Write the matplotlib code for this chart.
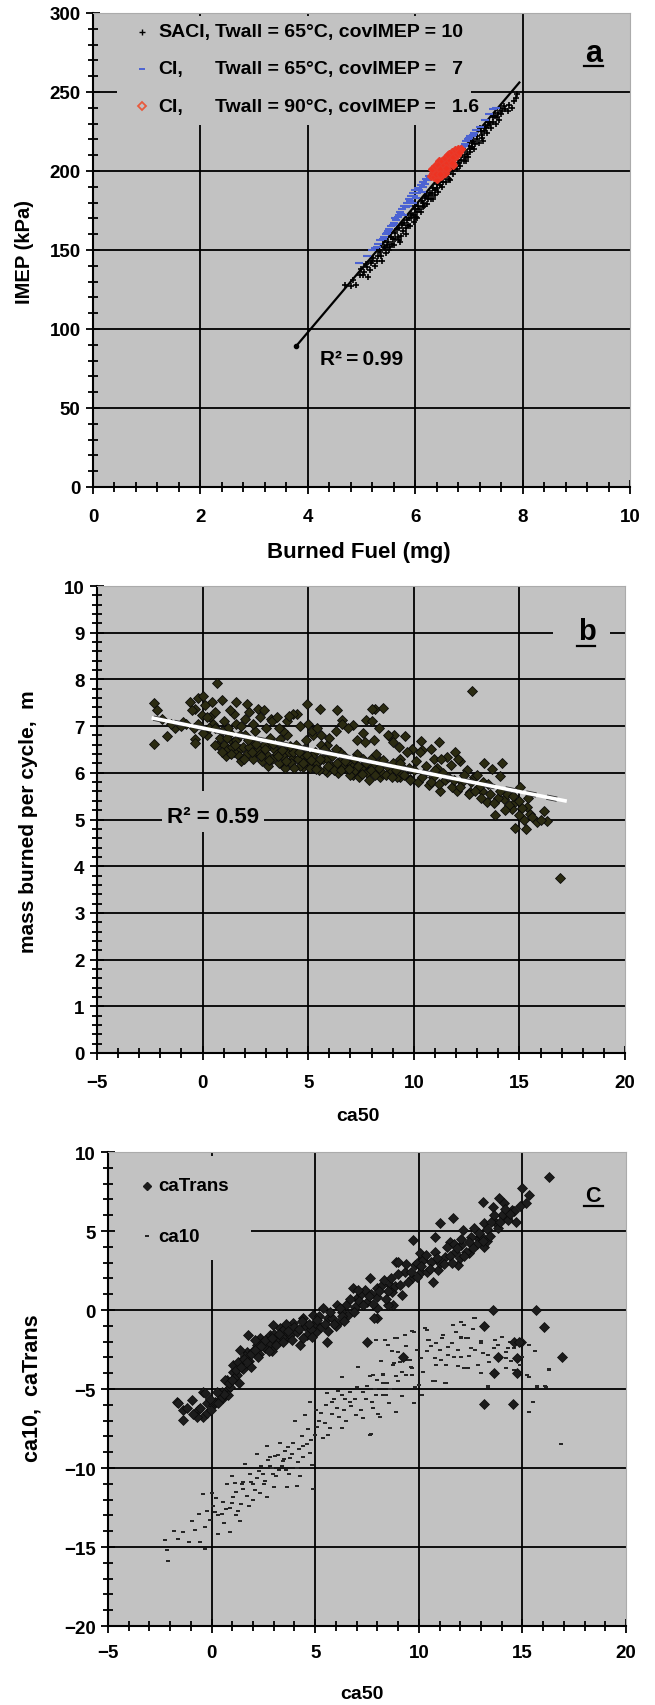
import numpy as np
import matplotlib
matplotlib.use('Agg')
import matplotlib.pyplot as plt
from matplotlib.patches import Rectangle
from matplotlib.ticker import MultipleLocator

plt.rcParams['font.family'] = ['Liberation Sans', 'DejaVu Sans']
plt.rcParams['font.weight'] = 'bold'

BG = '#c2c2c2'

# ---------------- panel a: IMEP vs burned fuel ----------------
a_saci = [(4.70, 128), (4.80, 127), (4.85, 131), (4.90, 128), (4.98, 134), (5.00, 138), (5.05, 136),
          (5.10, 139), (5.12, 133), (5.20, 143), (5.22, 145), (5.25, 140), (5.30, 146), (5.35, 149),
          (5.38, 143), (5.40, 156), (5.42, 152), (5.45, 148), (5.50, 155), (5.52, 150), (5.55, 158),
          (5.58, 157), (5.60, 153), (5.63, 161), (5.68, 158), (5.70, 164), (5.72, 155), (5.78, 162),
          (5.80, 167), (5.83, 160), (5.85, 169), (5.88, 170), (5.90, 165), (5.93, 173), (5.97, 168),
          (6.00, 176), (6.00, 178), (6.02, 171), (6.06, 178), (6.10, 174), (6.12, 181), (6.15, 177),
          (6.18, 183), (6.20, 184), (6.22, 179), (6.27, 186), (6.30, 182), (6.33, 189), (6.37, 185),
          (6.40, 192), (6.43, 187), (6.45, 193), (6.47, 194), (6.50, 190), (6.53, 197), (6.57, 193),
          (6.60, 199), (6.60, 202), (6.63, 195), (6.68, 202), (6.70, 198), (6.73, 205), (6.75, 204),
          (6.78, 201), (6.80, 207), (6.83, 203), (6.88, 210), (6.90, 206), (6.93, 213), (6.98, 209),
          (7.00, 216), (7.03, 212), (7.05, 218), (7.08, 219), (7.10, 214), (7.15, 222), (7.18, 218),
          (7.20, 227), (7.22, 225), (7.25, 221), (7.30, 228), (7.33, 224), (7.35, 229), (7.38, 231),
          (7.42, 227), (7.45, 234), (7.50, 230), (7.55, 237), (7.58, 240), (7.60, 236), (7.68, 239),
          (7.72, 238), (7.80, 240), (7.90, 249),
          (5.02, 134), (5.08, 141), (5.15, 137), (5.18, 142), (5.28, 143), (5.32, 150), (5.44, 151),
          (5.48, 153), (5.56, 154), (5.62, 157), (5.66, 163), (5.74, 159), (5.76, 166), (5.82, 164),
          (5.86, 166), (5.92, 170), (5.95, 172), (6.04, 174), (6.08, 176), (6.14, 180), (6.17, 178),
          (6.24, 182), (6.26, 185), (6.32, 186), (6.36, 188), (6.41, 189), (6.46, 191), (6.52, 193),
          (6.56, 196), (6.62, 198), (6.66, 200), (6.72, 201), (6.76, 203), (6.82, 205), (6.86, 207),
          (6.92, 209), (6.96, 211), (7.02, 214), (7.06, 215), (7.12, 217), (7.16, 220), (7.24, 223),
          (7.28, 225), (7.32, 227), (7.40, 230), (7.44, 231), (7.48, 235), (7.52, 234), (7.62, 238),
          (7.66, 241), (7.74, 242), (7.84, 244), (7.88, 246), (5.36, 146), (5.54, 152), (5.69, 156),
          (6.04, 170), (6.34, 182), (6.64, 194), (6.94, 206), (7.26, 219), (7.56, 232)]
a_ci65 = [(4.95, 142), (5.25, 151), (5.30, 154), (5.40, 157), (5.45, 160), (5.50, 162), (5.55, 165),
          (5.60, 167), (5.62, 170), (5.68, 171), (5.72, 174), (5.75, 176), (5.78, 172), (5.80, 178),
          (5.85, 180), (5.88, 182), (5.92, 184), (5.95, 180), (5.96, 186), (6.00, 188), (6.02, 183),
          (6.05, 189), (6.10, 191), (6.12, 187), (6.15, 193), (6.20, 195), (6.25, 197), (6.80, 212),
          (6.85, 214), (6.90, 216), (6.95, 219), (7.00, 221), (7.05, 222), (7.10, 224), (7.45, 239),
          (7.50, 240),
          (5.28, 152), (5.35, 156), (5.42, 158), (5.48, 161), (5.52, 163), (5.58, 166), (5.65, 169),
          (5.70, 172), (5.74, 173), (5.82, 177), (5.87, 178), (5.90, 181), (5.98, 184), (6.04, 186),
          (6.08, 188), (6.14, 190), (6.18, 192), (6.22, 194), (6.28, 196), (6.82, 213), (6.88, 215),
          (6.92, 217), (6.98, 220), (7.02, 222), (7.08, 223), (7.14, 226), (7.20, 228), (7.30, 232),
          (7.38, 236), (5.10, 146), (5.20, 150)]
a_ci90 = [(6.30, 197), (6.33, 199), (6.35, 196), (6.38, 200), (6.40, 202), (6.40, 195), (6.42, 198),
          (6.44, 206), (6.45, 203), (6.47, 200), (6.48, 197), (6.50, 205), (6.50, 200), (6.52, 202),
          (6.55, 206), (6.55, 199), (6.57, 203), (6.60, 208), (6.60, 201), (6.62, 205), (6.63, 211),
          (6.65, 209), (6.67, 206), (6.70, 211), (6.70, 204), (6.72, 208), (6.75, 212), (6.78, 210),
          (6.80, 213), (6.85, 214),
          (6.32, 201), (6.36, 203), (6.39, 198), (6.43, 204), (6.46, 201), (6.49, 206), (6.53, 204),
          (6.56, 208), (6.59, 205), (6.61, 210), (6.64, 207), (6.68, 212), (6.71, 209), (6.74, 213),
          (6.77, 211), (6.79, 214), (6.82, 212), (6.58, 202), (6.46, 198), (6.68, 205)]
a_fit_x = [3.78, 7.94]
a_fit_y = [89, 256]
a_legend = ['SACI,', 'CI,', 'CI,']
a_legend_rest = ['Twall = 65\u00b0C, covIMEP = 10', 'Twall = 65\u00b0C, covIMEP =   7',
                 'Twall = 90\u00b0C, covIMEP =   1.6']

# ---------------- panel b: mass burned vs ca50 ----------------
b_points = [(-2.30, 7.50), (-2.14, 7.34), (-2.30, 6.61), (-1.67, 6.78), (-1.31, 6.95), (-0.91, 7.09),
            (-0.60, 7.52), (-0.36, 7.37), (-0.20, 7.60), (0.03, 7.64), (0.66, 7.92), (0.43, 7.52),
            (0.90, 7.55), (-0.36, 6.73), (-0.36, 6.63), (-0.05, 7.23), (0.35, 7.20), (0.19, 6.80),
            (0.74, 6.59), (1.60, 7.52), (2.08, 7.48), (2.63, 7.37), (3.26, 7.16), (1.60, 7.05),
            (1.14, 6.88), (1.45, 6.66), (1.77, 6.52), (2.24, 6.70), (2.55, 6.45), (3.03, 6.59),
            (3.66, 6.73), (3.97, 6.49), (4.29, 6.31), (4.92, 7.48), (4.45, 7.27), (5.55, 7.37),
            (6.34, 7.34), (6.58, 7.13), (7.13, 7.02), (7.76, 7.13), (8.15, 7.37), (5.24, 6.81),
            (5.87, 6.59), (6.50, 6.45), (7.13, 5.95), (5.90, 6.02), (5.24, 6.17), (4.76, 6.13),
            (3.82, 6.17), (4.60, 6.31), (7.76, 6.17), (8.23, 5.99),
            (8.03, 7.36), (8.55, 7.39), (8.03, 7.10), (8.34, 6.96), (12.76, 7.75), (8.82, 6.79),
            (9.05, 6.81), (9.60, 6.79), (10.32, 6.69), (11.18, 6.67), (11.97, 6.44), (12.20, 6.26),
            (11.58, 6.34), (10.95, 6.30), (13.31, 6.21), (13.71, 6.09), (14.18, 6.21), (7.95, 6.30),
            (8.42, 5.91), (9.37, 5.91), (9.84, 5.87), (10.71, 5.73), (11.26, 5.62), (12.05, 5.62),
            (12.68, 5.59), (13.23, 5.62), (13.47, 5.37), (14.26, 5.44), (14.81, 5.37), (15.05, 5.69),
            (14.65, 5.23), (14.97, 5.09), (15.36, 5.26), (13.86, 5.09), (15.52, 5.12), (16.15, 5.19),
            (16.31, 4.96), (15.84, 4.94), (14.81, 4.81), (15.33, 4.79), (16.94, 3.75), (10.39, 6.48),
            (9.92, 6.51), (9.37, 6.30), (12.84, 5.91), (14.10, 5.94), (11.74, 6.16),
            (0.8, 6.75), (1.0, 6.60), (1.2, 6.50), (1.3, 6.85), (1.5, 6.45), (1.6, 6.70), (1.7, 6.35),
            (1.9, 6.55), (2.0, 6.80), (2.1, 6.40), (2.3, 6.65), (2.4, 6.30), (2.5, 6.90), (2.6, 6.50),
            (2.8, 6.25), (2.9, 6.60), (3.0, 6.40), (3.2, 6.75), (3.3, 6.30), (3.4, 6.50), (3.6, 6.20),
            (3.7, 6.60), (3.8, 6.35), (4.0, 6.80), (4.1, 6.45), (4.2, 6.20), (4.4, 6.60), (4.5, 6.30),
            (4.6, 6.15), (4.8, 6.50), (4.9, 6.70), (5.0, 6.25), (5.1, 6.10), (5.3, 6.45), (5.4, 6.20),
            (5.6, 6.60), (5.7, 6.30), (5.8, 6.05), (6.0, 6.40), (6.1, 6.15), (6.3, 6.50), (6.4, 6.00),
            (6.5, 6.25), (6.7, 6.35), (6.8, 6.10), (7.0, 5.95), (7.1, 6.20), (7.3, 6.40), (7.5, 6.10),
            (7.6, 6.30), (7.8, 6.00), (8.0, 6.15), (8.2, 6.40), (8.5, 6.00), (8.7, 5.95), (9.0, 6.20),
            (9.2, 5.90), (9.5, 6.10), (9.8, 5.85), (10.0, 6.05),
            (0.2, 7.20), (0.4, 7.00), (0.6, 7.30), (1.0, 7.10), (1.2, 6.95), (1.5, 7.25), (1.8, 7.00),
            (2.2, 7.30), (2.4, 7.05), (2.7, 7.20), (3.0, 6.95), (3.3, 7.10), (3.5, 7.20), (3.8, 6.90),
            (4.3, 7.25), (4.6, 7.00), (5.0, 7.05), (5.2, 6.90), (5.6, 6.80), (6.0, 6.75), (6.6, 7.05),
            (6.9, 6.95), (7.3, 6.70), (7.7, 6.65), (8.1, 6.70), (8.8, 6.80), (9.3, 6.55), (9.7, 6.45),
            (10.3, 6.45), (10.8, 6.50), (11.3, 6.30), (12.1, 6.30), (12.5, 6.05), (13.0, 5.95),
            (13.3, 5.80),
            (1.1, 6.35), (1.4, 6.55), (1.8, 6.25), (2.2, 6.55), (2.7, 6.40), (3.1, 6.15), (3.5, 6.40),
            (3.9, 6.10), (4.3, 6.45), (4.7, 6.40), (5.2, 6.35), (5.5, 6.05), (5.9, 6.30), (6.2, 6.05),
            (6.6, 6.15), (6.9, 6.25), (7.2, 6.05), (7.4, 5.90), (7.9, 5.85), (8.4, 6.25), (8.9, 6.05),
            (9.4, 6.00), (10.2, 5.80), (10.5, 6.00), (10.9, 5.90), (11.1, 6.10), (11.5, 5.85),
            (11.8, 5.70), (12.3, 5.80), (12.6, 5.55), (13.1, 5.70), (13.6, 5.55), (14.0, 5.45),
            (14.4, 5.55), (14.5, 5.30), (15.0, 5.40), (15.2, 5.00), (15.6, 5.05), (16.0, 4.98),
            (0.0, 6.85), (-0.4, 6.95), (-0.8, 7.05), (-1.0, 7.00), (0.1, 7.45), (-0.5, 7.35),
            (0.5, 7.05), (0.9, 6.90),
            (0.6, 6.60), (0.9, 6.45), (1.15, 6.75), (1.35, 6.40), (1.55, 6.60), (1.75, 6.80), (1.95, 6.30),
            (2.15, 6.70), (2.35, 6.45), (2.55, 6.62), (2.75, 6.35), (2.95, 6.50), (3.15, 6.28), (3.35, 6.62),
            (3.55, 6.35), (3.75, 6.48), (3.95, 6.25), (4.15, 6.58), (4.35, 6.10), (4.55, 6.45), (4.75, 6.22),
            (4.95, 6.38), (5.15, 6.28), (5.35, 6.08), (5.55, 6.30), (5.75, 6.50), (5.95, 6.15), (6.15, 6.35),
            (6.35, 6.20), (6.55, 6.05), (6.75, 6.25), (6.95, 6.08), (7.15, 6.30), (7.35, 6.15), (7.55, 5.98),
            (7.75, 6.20), (7.95, 6.05), (8.15, 5.95), (8.35, 6.10), (8.55, 6.28), (8.75, 6.15), (8.95, 5.90),
            (9.15, 6.05), (9.35, 6.20), (9.55, 5.95), (9.75, 6.10), (10.1, 6.25), (10.4, 5.90), (10.6, 6.15),
            (10.8, 5.80), (11.0, 6.05), (11.2, 5.75), (11.4, 6.00), (11.6, 5.90), (11.9, 5.85), (12.2, 5.70),
            (12.4, 5.95), (12.7, 5.80), (12.9, 5.60), (13.2, 5.45), (13.5, 5.75), (13.8, 5.35), (14.1, 5.60),
            (14.3, 5.20), (14.7, 5.50), (15.1, 5.25), (15.4, 5.45), (2.0, 7.15), (3.6, 6.95), (4.0, 7.10),
            (5.4, 6.95), (6.3, 6.90), (7.6, 6.85), (9.0, 6.65), (0.3, 6.95), (-0.2, 7.05), (-1.5, 7.05),
            (-1.9, 7.15), (0.6, 6.95), (1.3, 7.35), (2.9, 7.35), (4.1, 7.22)]
b_fit_x = [-2.33, 17.16]
b_fit_y = [7.17, 5.40]

# ---------------- panel c: ca10 / caTrans vs ca50 ----------------
c_trans = [(-1.69, -5.84), (-1.37, -6.33), (-0.96, -5.70), (-0.40, -5.21), (-0.24, -5.91), (-0.64, -6.33),
           (0.08, -6.00), (0.56, -5.59), (0.72, -5.06), (0.72, -4.43), (1.05, -3.90), (1.37, -3.27),
           (1.69, -2.64), (2.17, -2.22), (2.81, -1.58), (3.30, -1.16), (3.94, -0.84), (4.42, -0.53),
           (4.90, -0.32), (5.39, 0.10), (1.21, -4.11), (1.37, -2.53), (1.77, -1.58), (2.33, -1.79),
           (2.97, -0.95), (3.62, -1.69), (4.26, -2.22), (5.06, -1.37), (5.55, -2.00), (5.63, -0.53),
           (6.03, 0.32), (6.27, -0.10), (6.83, 1.37), (7.00, 0.74), (7.64, 2.00), (7.96, 1.37),
           (7.96, -0.49), (8.60, 1.58), (8.76, 0.32), (8.92, 3.06), (7.48, -2.00),
           (16.28, 8.44), (14.97, 7.70), (15.32, 7.28), (15.16, 6.75), (13.88, 7.07), (13.56, 6.54),
           (13.08, 6.86), (14.52, 6.33), (14.28, 5.80), (14.04, 6.01), (13.72, 5.49), (13.16, 5.49),
           (12.68, 5.21), (12.12, 5.06), (11.64, 5.84), (11.04, 5.49), (10.77, 4.64), (9.73, 4.43),
           (11.49, 4.32), (12.04, 4.11), (12.84, 4.54), (13.16, 4.01), (12.44, 3.59), (11.73, 3.69),
           (11.25, 3.38), (10.61, 3.06), (10.05, 3.59), (9.81, 2.85), (9.01, 3.06), (9.33, 2.43),
           (9.65, 2.00), (10.13, 2.43), (10.69, 1.79), (10.93, 2.53), (11.88, 2.85), (8.21, 1.58),
           (8.69, 1.16), (8.53, 0.32), (9.17, 0.95), (13.56, 0.00), (15.64, 0.00), (13.16, -1.01),
           (16.04, -1.05), (16.89, -2.95), (14.60, -2.00), (14.92, -2.00), (13.80, -2.95),
           (14.76, -3.06), (9.25, -2.95),
           (-1.61, -5.86), (-1.37, -6.95), (-0.56, -6.21), (-0.40, -6.74), (-0.32, -5.27), (0.16, -5.79),
           (0.48, -5.17), (0.80, -5.38), (0.64, -4.44), (1.05, -3.49), (1.29, -3.28), (-0.72, -6.74),
           (13.17, -5.97), (14.56, -5.97), (7.86, -0.48), (14.84, -2.00), (13.65, -3.98), (14.76, -3.98),
           (2.5, -2.0), (3.0, -1.5), (3.5, -1.2), (4.0, -1.1), (4.5, -1.0), (5.0, -0.8), (5.8, -0.5),
           (6.5, 0.3), (7.2, 1.0), (7.5, 0.5), (8.0, 0.8), (8.5, 1.2), (9.5, 1.8), (10.4, 2.4),
           (11.0, 3.0), (11.5, 3.4), (12.3, 3.7), (12.8, 4.2), (13.3, 4.4), (13.8, 5.2), (14.3, 5.7),
           (14.6, 6.3), (1.8, -3.2), (2.0, -2.6), (1.5, -3.7), (1.1, -4.3), (0.9, -4.9), (2.6, -2.4),
           (3.2, -1.9), (3.8, -1.6), (4.6, -1.6), (5.3, -1.1), (6.1, -0.8), (6.6, -0.3), (7.4, 1.3),
           (8.0, 0.1), (1.6, -2.9), (1.9, -3.6), (2.3, -2.8), (2.8, -2.1), (3.4, -1.7), (4.1, -1.4),
           (4.8, -1.2), (5.6, -1.3), (6.3, -0.4), (6.9, 0.2), (7.7, 1.0), (8.3, 1.9), (9.0, 2.3),
           (9.9, 3.0), (10.8, 3.7), (11.7, 4.2), (12.5, 4.6), (13.5, 5.6), (14.1, 6.8), (1.3, -4.6),
           (0.4, -5.6), (-0.2, -6.5), (2.1, -1.9), (2.9, -2.6), (3.6, -0.9), (4.4, -1.8), (5.2, -0.4),
           (6.0, -1.0), (7.1, 0.6), (10.2, 3.2), (12.0, 3.3), (13.0, 4.7),
           (0.3, -5.9), (0.6, -5.3), (0.85, -4.6), (1.0, -4.4), (1.2, -3.8), (1.4, -3.6), (1.55, -3.1),
           (1.7, -3.3), (1.9, -2.8), (2.1, -2.5), (2.25, -3.0), (2.4, -2.3), (2.6, -1.9), (2.75, -2.6),
           (2.9, -1.8), (3.1, -2.2), (3.25, -1.5), (3.45, -2.0), (3.7, -1.3), (3.9, -1.9), (4.2, -1.2),
           (4.35, -0.7), (4.7, -0.9), (4.85, -1.7), (5.1, -0.6), (5.45, -0.9), (5.7, -0.1), (5.9, -0.9),
           (6.2, 0.1), (6.4, -0.7), (6.7, 0.7), (6.85, -0.1), (7.05, 1.3), (7.3, 0.3), (7.6, 0.9),
           (7.8, 0.4), (8.1, 1.2), (8.4, 0.7), (8.65, 2.0), (8.85, 1.5), (9.1, 1.6), (9.4, 2.9),
           (9.6, 2.4), (9.9, 2.1), (10.1, 2.8), (10.35, 3.5), (10.55, 2.6), (10.9, 3.3), (11.2, 2.9),
           (11.35, 4.0), (11.6, 3.0), (11.85, 3.9), (12.05, 4.5), (12.2, 3.4), (12.4, 4.3), (12.6, 3.9),
           (12.9, 4.9), (13.1, 4.4), (13.3, 5.1), (13.45, 4.7), (13.65, 6.0), (13.9, 5.6), (14.15, 6.4),
           (14.4, 6.1), (14.7, 5.6), (14.9, 6.6), (-1.2, -6.2), (-0.9, -6.6), (-0.1, -5.6), (-0.05, -6.3),
           (0.25, -5.2)]
c_ca10 = [(12.68, -0.53), (12.04, -0.74), (11.17, -1.58), (12.04, -1.75), (12.28, -1.75), (10.29, -1.16),
          (9.65, -1.33), (9.33, -1.58), (8.85, -1.79), (8.37, -1.90), (10.45, -1.90), (10.85, -2.11),
          (11.41, -2.32), (11.88, -2.53), (12.52, -2.43), (13.00, -2.11), (13.64, -2.43), (14.20, -2.64),
          (13.32, -2.85), (11.72, -2.95), (11.09, -3.16), (10.13, -3.06), (9.57, -3.16), (9.01, -2.64),
          (8.53, -2.22), (8.77, -3.48), (8.29, -4.11), (9.17, -3.90), (9.65, -3.69), (10.85, -3.48),
          (12.20, -3.69), (12.84, -3.48), (13.56, -3.90), (14.20, -3.69), (14.76, -4.00), (15.32, -4.22),
          (16.28, -3.80), (15.72, -4.85), (16.12, -4.85), (13.32, -4.85), (11.25, -4.64), (10.69, -4.49),
          (9.81, -4.85), (12.20, -0.95),
          (-2.25, -14.54), (-2.17, -15.21), (-2.09, -15.88), (-1.61, -14.48), (-1.37, -14.06),
          (-0.96, -13.33), (-0.56, -14.69), (-0.32, -15.10), (-0.32, -13.74), (-0.24, -12.70),
          (-0.40, -11.65), (0.00, -11.55), (0.08, -12.38), (0.32, -14.16), (0.48, -12.91), (0.88, -14.06),
          (0.56, -12.18), (0.72, -11.03), (1.05, -11.86), (1.29, -12.70), (1.37, -13.33), (1.13, -10.92),
          (1.61, -9.77), (1.85, -10.40), (1.53, -11.34), (2.17, -9.14), (2.01, -11.03), (2.33, -11.55),
          (2.65, -11.86), (2.49, -10.40), (2.81, -9.87), (3.05, -9.25), (3.30, -8.41), (3.54, -8.93),
          (3.78, -9.35), (4.10, -9.98), (4.26, -10.50), (4.10, -11.13), (3.62, -11.23), (4.42, -8.62),
          (4.74, -9.04), (4.90, -11.34), (4.02, -7.05), (4.50, -6.63), (4.74, -5.79), (4.98, -7.89),
          (5.39, -8.10), (5.47, -7.15), (5.06, -6.32), (5.55, -5.27), (5.79, -5.79), (6.03, -6.21),
          (6.27, -5.38), (6.27, -4.23), (6.67, -5.79), (6.67, -5.17), (6.99, -6.63), (7.07, -3.60),
          (7.32, -6.84), (7.64, -7.89), (7.72, -5.79), (8.12, -6.74), (8.28, -5.38), (7.96, -4.44),
          (8.28, -4.02), (6.27, -7.47), (6.51, -7.05), (5.71, -7.47), (2.65, -8.62), (3.46, -9.56),
          (2.97, -10.40),
          (16.84, -8.45), (15.51, -5.81), (15.32, -6.44), (15.71, -4.78), (16.11, -4.78), (16.27, -3.73),
          (13.33, -4.78), (11.30, -4.61), (10.79, -4.50), (10.00, -4.72), (10.16, -5.35), (9.76, -5.87),
          (8.89, -6.44), (9.21, -5.45), (8.57, -5.87), (8.41, -5.35), (7.94, -5.35), (8.02, -6.60),
          (7.70, -7.86), (8.25, -4.61), (7.78, -4.09), (8.89, -4.19), (9.37, -4.09), (8.81, -3.35),
          (9.37, -3.14), (9.68, -4.09), (10.40, -1.26), (9.76, -1.36), (8.97, -1.78), (7.94, -1.89),
          (11.67, -0.94), (12.06, -0.73), (12.70, -0.48), (12.06, -1.68), (12.38, -1.78), (13.02, -1.99),
          (13.81, -2.20), (14.29, -2.41), (12.70, -2.52), (12.06, -2.94), (11.43, -2.83), (10.79, -3.04),
          (11.90, -3.56), (13.02, -3.98), (12.38, -3.67), (14.44, -3.25), (15.24, -4.09), (14.60, -3.77),
          (14.92, -2.94), (10.48, -1.89), (11.11, -1.78), (13.81, -2.94), (14.21, -3.04),
          (0.3, -13.0), (0.7, -12.6), (1.0, -12.2), (1.2, -11.5), (1.5, -10.9), (1.7, -11.8), (1.9, -10.9),
          (2.2, -10.6), (2.4, -9.9), (2.7, -9.5), (2.9, -10.0), (3.2, -9.2), (3.4, -9.9), (3.7, -8.7),
          (3.9, -9.1), (4.2, -8.8), (4.4, -9.3), (4.6, -8.5), (4.8, -8.2), (1.0, -10.5), (1.4, -12.3),
          (0.2, -11.9), (2.0, -12.0), (2.6, -10.8), (3.1, -10.5), (3.6, -10.1), (5.2, -7.0), (5.8, -6.6),
          (6.4, -6.3), (6.9, -5.6), (7.3, -5.2), (7.5, -4.8), (6.1, -5.1), (5.5, -6.0), (7.8, -6.2),
          (8.6, -5.0), (9.0, -4.5), (9.6, -3.6), (10.4, -2.6), (11.0, -2.5), (11.6, -2.1), (12.4, -2.9),
          (13.4, -3.3), (14.0, -1.7), (14.6, -2.4), (15.0, -3.0), (15.6, -2.6),
          (-1.8, -14.0), (-1.1, -14.7), (-0.8, -13.9), (-0.6, -12.9), (-0.1, -13.3), (0.15, -12.8),
          (0.6, -13.5), (0.9, -12.5), (1.2, -13.0), (1.45, -11.0), (1.8, -12.4), (2.1, -11.4),
          (2.3, -10.2), (2.55, -11.0), (2.8, -9.3), (3.0, -11.2), (3.25, -10.1), (3.5, -9.4),
          (3.75, -10.4), (3.95, -8.4), (4.15, -9.6), (4.35, -8.0), (4.65, -7.5), (4.85, -9.8),
          (5.1, -7.4), (5.3, -6.5), (5.6, -7.9), (5.9, -5.6), (6.15, -6.8), (6.45, -5.6), (6.75, -6.1),
          (7.0, -4.9), (7.2, -6.3), (7.45, -5.6), (7.65, -4.2), (7.9, -5.0), (8.2, -3.2), (8.45, -4.6),
          (8.7, -2.6), (9.1, -3.3), (9.4, -2.3), (9.9, -2.5), (10.2, -3.9), (10.6, -2.3), (11.3, -3.5),
          (11.8, -1.4), (12.6, -1.2), (13.1, -2.7), (13.7, -1.9), (14.4, -2.0), (14.9, -3.5), (15.3, -2.2)]

# small blob used by Excel for the ca10 series
BLOB = [(-1, -0.75), (1, -0.75), (1, 0.75), (-1, 0.75)]


def style_axes(ax, xlim, ylim, xmaj, xmin, ymaj, ymin, xpad):
    ax.set_facecolor(BG)
    ax.set_xlim(*xlim)
    ax.set_ylim(*ylim)
    ax.xaxis.set_major_locator(MultipleLocator(xmaj))
    ax.xaxis.set_minor_locator(MultipleLocator(xmin))
    ax.yaxis.set_major_locator(MultipleLocator(ymaj))
    ax.yaxis.set_minor_locator(MultipleLocator(ymin))
    # excel-like grid, only inside the plot area
    for v in np.arange(xlim[0] + xmaj, xlim[1] - xmaj / 2, xmaj):
        ax.axvline(v, color='black', lw=1.3, zorder=0.5)
    for v in np.arange(ylim[0] + ymaj, ylim[1] - ymaj / 2, ymaj):
        ax.axhline(v, color='black', lw=1.3, zorder=0.5)
    for s in ['top', 'right']:
        ax.spines[s].set_color('#ababab')
        ax.spines[s].set_linewidth(0.8)
    for s in ['left', 'bottom']:
        ax.spines[s].set_linewidth(1.5)
    ax.tick_params(which='both', direction='inout', width=1.3, labelsize=13.5, top=False, right=False)
    ax.tick_params(which='major', length=10)
    ax.tick_params(which='minor', length=7)
    ax.tick_params(axis='x', pad=xpad)
    ax.tick_params(axis='y', pad=4)


def blank_box(ax, x0, x1, y0, y1):
    ax.add_patch(Rectangle((x0, y0), x1 - x0, y1 - y0, facecolor=BG, edgecolor='none', zorder=0.8))


def tag(ax, s, x, y, ux0, ux1, uy, size):
    ax.text(x, y, s, fontsize=size, fontweight='bold', ha='center', va='baseline', zorder=5)
    ax.plot([ux0, ux1], [uy, uy], color='black', lw=1.6, zorder=5)


fig = plt.figure(figsize=(6.55, 17.06), dpi=100)

# ---- a ----
ax = fig.add_axes([0.1420, 0.7140, 0.8198, 0.2778])
style_axes(ax, (0, 10), (0, 300), 2, 0.4, 50, 10, 10)
blank_box(ax, 0.45, 7.04, 229, 298)
sx, sy = np.array(a_saci).T
bx, by = np.array(a_ci65).T
rx, ry = np.array(a_ci90).T
ax.plot(a_fit_x, a_fit_y, color='black', lw=1.6, zorder=2)
ax.plot(a_fit_x[0], a_fit_y[0], 'o', color='black', ms=3, zorder=2)
ax.plot(sx, sy, '+', color='black', ms=4.5, mew=1.2, ls='none', zorder=3)
ax.plot(bx, by, '_', color='#4c63d2', ms=5.5, mew=1.5, ls='none', zorder=3)
ax.plot(rx, ry, 'D', color='#ee3322', ms=3.6, mec='#e83a2a', ls='none', zorder=4)
leg_y = [288.2, 264.6, 241.0]
ax.plot(0.92, leg_y[0], '+', color='black', ms=4, mew=1.0, zorder=4)
ax.plot(0.92, leg_y[1], '_', color='#4c63d2', ms=5, mew=1.4, zorder=4)
ax.plot(0.92, leg_y[2], 'D', mfc='none', mec='#e85a3c', mew=1.3, ms=4, zorder=4)
for yy, s1, s2 in zip(leg_y, a_legend, a_legend_rest):
    ax.text(1.22, yy, s1, fontsize=14, fontweight='bold', va='center', zorder=5)
    ax.text(2.28, yy, s2, fontsize=14, fontweight='bold', va='center', zorder=5)
ax.text(4.23, 77.8, 'R\u00b2\u2009=\u20090.99', fontsize=15, fontweight='bold', va='baseline', zorder=5)
tag(ax, 'a', 9.32, 269.5, 9.15, 9.49, 266.5, 22)
ax.text(-0.128, 0.498, 'IMEP (kPa)', transform=ax.transAxes, rotation=90, fontsize=14.5,
        fontweight='bold', ha='center', va='center')
ax.text(0.495, -0.137, 'Burned Fuel (mg)', transform=ax.transAxes, fontsize=16,
        fontweight='bold', ha='center', va='center')

# ---- b ----
ax = fig.add_axes([0.1481, 0.3822, 0.8061, 0.2737])
style_axes(ax, (-5, 20), (0, 10), 5, 1, 1, 0.2, 10)
blank_box(ax, 16.6, 19.3, 8.6, 9.4)
blank_box(ax, -1.94, 2.9, 4.73, 5.62)
px, py = np.array(b_points).T
ax.plot(px, py, 'D', ms=4.9, mfc='#2b2b12', mec='#0a0a0a', mew=0.6, ls='none', zorder=2)
ax.plot(b_fit_x, b_fit_y, color='#333333', lw=3.8, ls=(0, (2, 2)), zorder=3)
ax.plot(b_fit_x, b_fit_y, color='white', lw=2.6, zorder=3)
ax.text(-1.7, 4.94, 'R\u00b2 = 0.59', fontsize=16, fontweight='bold', va='baseline', zorder=5)
tag(ax, 'b', 18.18, 8.87, 17.75, 18.6, 8.72, 21)
ax.text(-0.130, 0.497, 'mass burned per cycle,  m', transform=ax.transAxes, rotation=90,
        fontsize=15, fontweight='bold', ha='center', va='center')
ax.text(0.494, -0.133, 'ca50', transform=ax.transAxes, fontsize=14,
        fontweight='bold', ha='center', va='center')

# ---- c ----
ax = fig.add_axes([0.1649, 0.0463, 0.7908, 0.2778])
style_axes(ax, (-5, 20), (-20, 10), 5, 1, 5, 1, 8)
blank_box(ax, -5, 1.92, 3.16, 9.75)
tx, ty = np.array(c_trans).T
qx, qy = np.array(c_ca10).T
ax.plot(qx, qy, marker=BLOB, ms=2.7, color='#262626', mew=0, ls='none', zorder=2)
ax.plot(tx, ty, 'D', ms=5.2, color='#1c1c1c', mec='#0a0a0a', mew=0.5, ls='none', zorder=3)
ax.plot(-3.1, 7.88, 'D', ms=4.4, color='#1c1c1c', zorder=4)
ax.plot(-3.1, 4.66, marker=BLOB, ms=2.7, color='#262626', mew=0, zorder=4)
ax.text(-2.56, 7.88, 'caTrans', fontsize=13.5, fontweight='bold', va='center', zorder=5)
ax.text(-2.56, 4.66, 'ca10', fontsize=13.5, fontweight='bold', va='center', zorder=5)
tag(ax, 'C', 18.42, 6.92, 17.97, 18.87, 6.6, 15.5)
ax.text(-0.146, 0.504, 'ca10,  caTrans', transform=ax.transAxes, rotation=90,
        fontsize=15.5, fontweight='bold', ha='center', va='center')
ax.text(0.49, -0.143, 'ca50', transform=ax.transAxes, fontsize=14,
        fontweight='bold', ha='center', va='center')

fig.savefig('out.png', dpi=100, facecolor='white')
